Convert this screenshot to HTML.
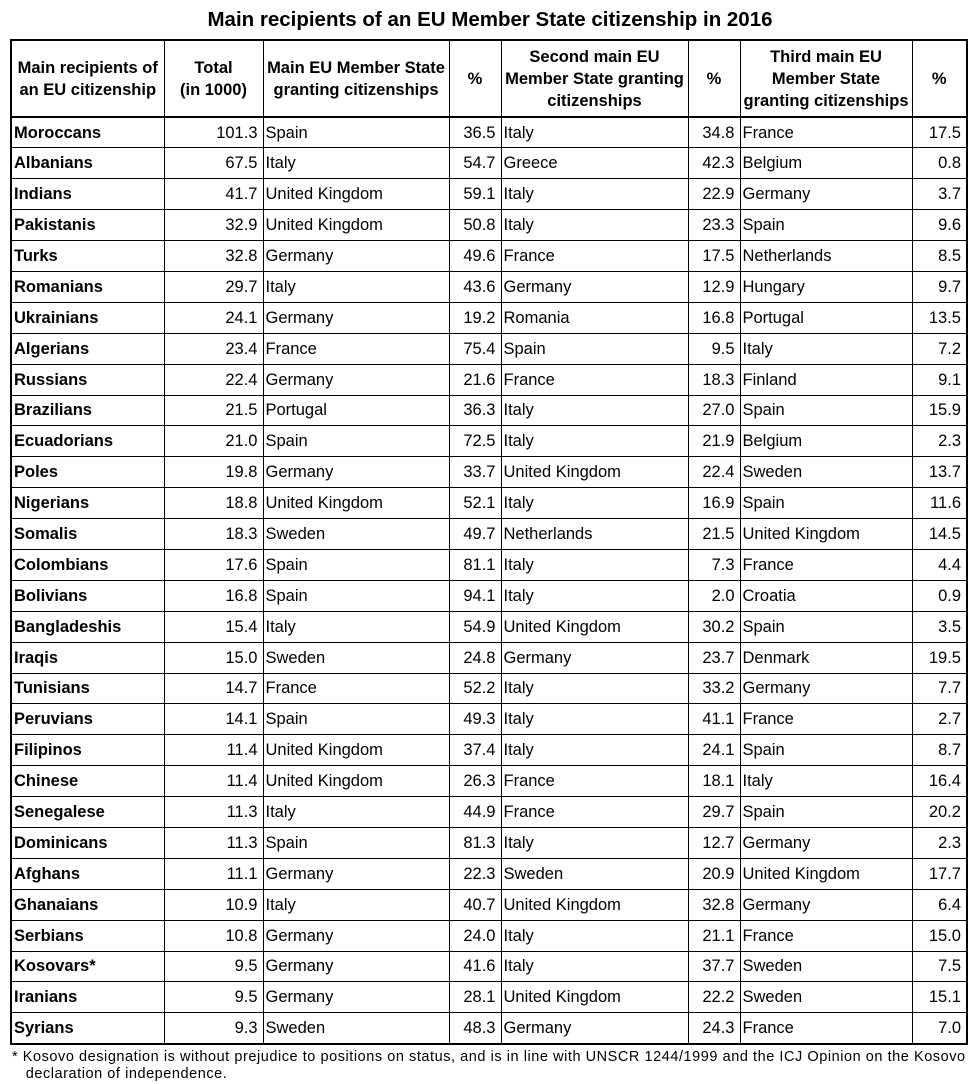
<!DOCTYPE html>
<html><head><meta charset="utf-8"><style>
body{margin:0;width:980px;height:1084px;background:#fff;font-family:"Liberation Sans",Arial,sans-serif;color:#000;position:relative;overflow:hidden}
h1{position:absolute;top:8px;left:0;width:980px;text-align:center;font-size:20.5px;font-weight:bold;margin:0}
table{position:absolute;left:10px;top:39px;border-collapse:collapse;table-layout:fixed;border:2px solid #000}
tr{height:30.9px}
td{border:1.3px solid #000;font-size:16.5px;padding:0 3px 0 2px;line-height:18px;white-space:nowrap;overflow:hidden}
tr.h{height:77px}
tr.h td{font-weight:bold;font-size:16.5px;line-height:22px;text-align:center;border-bottom:2px solid #000;padding:0}
td.b{font-weight:bold}
td.r{text-align:right;padding-right:5px}
.fn{position:absolute;left:12px;top:1049px;font-size:14.5px;line-height:17px;letter-spacing:0.55px}
</style></head><body>
<h1>Main recipients of an EU Member State citizenship in 2016</h1>
<table>
<colgroup><col style="width:153px"><col style="width:99px"><col style="width:186px"><col style="width:52px"><col style="width:187px"><col style="width:52px"><col style="width:172px"><col style="width:55px"></colgroup>
<tr class="h"><td>Main recipients of<br>an EU citizenship</td><td>Total<br>(in 1000)</td><td>Main EU Member State<br>granting citizenships</td><td>%</td><td>Second main EU<br>Member State granting<br>citizenships</td><td>%</td><td>Third main EU<br>Member State<br>granting citizenships</td><td>%</td></tr>
<tr><td class="b">Moroccans</td><td class="r">101.3</td><td>Spain</td><td class="r">36.5</td><td>Italy</td><td class="r">34.8</td><td>France</td><td class="r">17.5</td></tr>
<tr><td class="b">Albanians</td><td class="r">67.5</td><td>Italy</td><td class="r">54.7</td><td>Greece</td><td class="r">42.3</td><td>Belgium</td><td class="r">0.8</td></tr>
<tr><td class="b">Indians</td><td class="r">41.7</td><td>United Kingdom</td><td class="r">59.1</td><td>Italy</td><td class="r">22.9</td><td>Germany</td><td class="r">3.7</td></tr>
<tr><td class="b">Pakistanis</td><td class="r">32.9</td><td>United Kingdom</td><td class="r">50.8</td><td>Italy</td><td class="r">23.3</td><td>Spain</td><td class="r">9.6</td></tr>
<tr><td class="b">Turks</td><td class="r">32.8</td><td>Germany</td><td class="r">49.6</td><td>France</td><td class="r">17.5</td><td>Netherlands</td><td class="r">8.5</td></tr>
<tr><td class="b">Romanians</td><td class="r">29.7</td><td>Italy</td><td class="r">43.6</td><td>Germany</td><td class="r">12.9</td><td>Hungary</td><td class="r">9.7</td></tr>
<tr><td class="b">Ukrainians</td><td class="r">24.1</td><td>Germany</td><td class="r">19.2</td><td>Romania</td><td class="r">16.8</td><td>Portugal</td><td class="r">13.5</td></tr>
<tr><td class="b">Algerians</td><td class="r">23.4</td><td>France</td><td class="r">75.4</td><td>Spain</td><td class="r">9.5</td><td>Italy</td><td class="r">7.2</td></tr>
<tr><td class="b">Russians</td><td class="r">22.4</td><td>Germany</td><td class="r">21.6</td><td>France</td><td class="r">18.3</td><td>Finland</td><td class="r">9.1</td></tr>
<tr><td class="b">Brazilians</td><td class="r">21.5</td><td>Portugal</td><td class="r">36.3</td><td>Italy</td><td class="r">27.0</td><td>Spain</td><td class="r">15.9</td></tr>
<tr><td class="b">Ecuadorians</td><td class="r">21.0</td><td>Spain</td><td class="r">72.5</td><td>Italy</td><td class="r">21.9</td><td>Belgium</td><td class="r">2.3</td></tr>
<tr><td class="b">Poles</td><td class="r">19.8</td><td>Germany</td><td class="r">33.7</td><td>United Kingdom</td><td class="r">22.4</td><td>Sweden</td><td class="r">13.7</td></tr>
<tr><td class="b">Nigerians</td><td class="r">18.8</td><td>United Kingdom</td><td class="r">52.1</td><td>Italy</td><td class="r">16.9</td><td>Spain</td><td class="r">11.6</td></tr>
<tr><td class="b">Somalis</td><td class="r">18.3</td><td>Sweden</td><td class="r">49.7</td><td>Netherlands</td><td class="r">21.5</td><td>United Kingdom</td><td class="r">14.5</td></tr>
<tr><td class="b">Colombians</td><td class="r">17.6</td><td>Spain</td><td class="r">81.1</td><td>Italy</td><td class="r">7.3</td><td>France</td><td class="r">4.4</td></tr>
<tr><td class="b">Bolivians</td><td class="r">16.8</td><td>Spain</td><td class="r">94.1</td><td>Italy</td><td class="r">2.0</td><td>Croatia</td><td class="r">0.9</td></tr>
<tr><td class="b">Bangladeshis</td><td class="r">15.4</td><td>Italy</td><td class="r">54.9</td><td>United Kingdom</td><td class="r">30.2</td><td>Spain</td><td class="r">3.5</td></tr>
<tr><td class="b">Iraqis</td><td class="r">15.0</td><td>Sweden</td><td class="r">24.8</td><td>Germany</td><td class="r">23.7</td><td>Denmark</td><td class="r">19.5</td></tr>
<tr><td class="b">Tunisians</td><td class="r">14.7</td><td>France</td><td class="r">52.2</td><td>Italy</td><td class="r">33.2</td><td>Germany</td><td class="r">7.7</td></tr>
<tr><td class="b">Peruvians</td><td class="r">14.1</td><td>Spain</td><td class="r">49.3</td><td>Italy</td><td class="r">41.1</td><td>France</td><td class="r">2.7</td></tr>
<tr><td class="b">Filipinos</td><td class="r">11.4</td><td>United Kingdom</td><td class="r">37.4</td><td>Italy</td><td class="r">24.1</td><td>Spain</td><td class="r">8.7</td></tr>
<tr><td class="b">Chinese</td><td class="r">11.4</td><td>United Kingdom</td><td class="r">26.3</td><td>France</td><td class="r">18.1</td><td>Italy</td><td class="r">16.4</td></tr>
<tr><td class="b">Senegalese</td><td class="r">11.3</td><td>Italy</td><td class="r">44.9</td><td>France</td><td class="r">29.7</td><td>Spain</td><td class="r">20.2</td></tr>
<tr><td class="b">Dominicans</td><td class="r">11.3</td><td>Spain</td><td class="r">81.3</td><td>Italy</td><td class="r">12.7</td><td>Germany</td><td class="r">2.3</td></tr>
<tr><td class="b">Afghans</td><td class="r">11.1</td><td>Germany</td><td class="r">22.3</td><td>Sweden</td><td class="r">20.9</td><td>United Kingdom</td><td class="r">17.7</td></tr>
<tr><td class="b">Ghanaians</td><td class="r">10.9</td><td>Italy</td><td class="r">40.7</td><td>United Kingdom</td><td class="r">32.8</td><td>Germany</td><td class="r">6.4</td></tr>
<tr><td class="b">Serbians</td><td class="r">10.8</td><td>Germany</td><td class="r">24.0</td><td>Italy</td><td class="r">21.1</td><td>France</td><td class="r">15.0</td></tr>
<tr><td class="b">Kosovars*</td><td class="r">9.5</td><td>Germany</td><td class="r">41.6</td><td>Italy</td><td class="r">37.7</td><td>Sweden</td><td class="r">7.5</td></tr>
<tr><td class="b">Iranians</td><td class="r">9.5</td><td>Germany</td><td class="r">28.1</td><td>United Kingdom</td><td class="r">22.2</td><td>Sweden</td><td class="r">15.1</td></tr>
<tr><td class="b">Syrians</td><td class="r">9.3</td><td>Sweden</td><td class="r">48.3</td><td>Germany</td><td class="r">24.3</td><td>France</td><td class="r">7.0</td></tr>
</table>
<div class="fn">* Kosovo designation is without prejudice to positions on status, and is in line with UNSCR 1244/1999 and the ICJ Opinion on the Kosovo<br>&nbsp;&nbsp;&nbsp;declaration of independence.</div>
</body></html>
